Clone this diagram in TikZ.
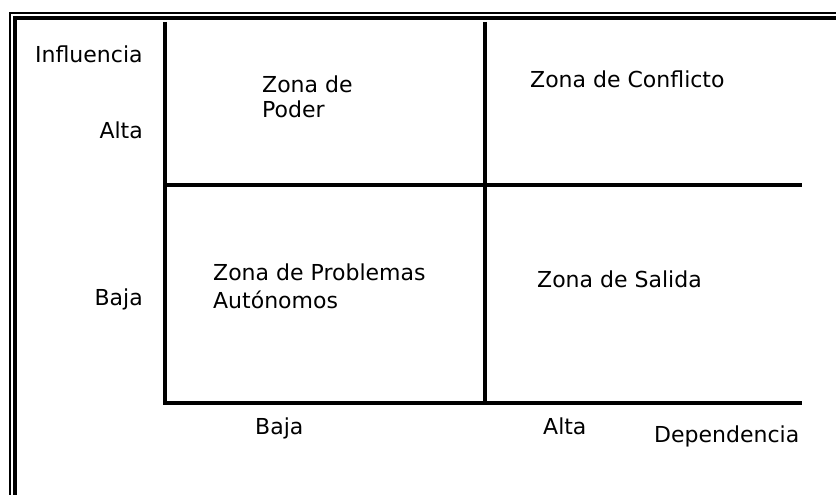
\documentclass[tikz,border=0pt]{standalone}
\usepackage{fontspec}
\setmainfont{DejaVu Sans}
\usetikzlibrary{positioning}

\begin{document}
\begin{tikzpicture}[x=1pt,y=-1pt,
    lbl/.style={inner sep=0pt,font=\fontsize{22pt}{25pt}\selectfont,text=black},
    zone/.style={lbl,anchor=north west,align=left},
    axisline/.style={line width=3.2pt,black}]
  \useasboundingbox (0,0) rectangle (836,495);
  % frame (open on the right and bottom)
  \draw[line width=2pt] (10,495) -- (10,13) -- (836,13);
  \draw[line width=4pt] (15,495) -- (15,18) -- (836,18);
  % grid
  \coordinate (o) at (165,403);
  \coordinate (ytop) at (165,22);
  \coordinate (xend) at (802,403);
  \coordinate (mtop) at (485,22);
  \coordinate (mbot) at (485,403);
  \coordinate (hl) at (165,185);
  \coordinate (hr) at (802,185);
  \draw[axisline] (ytop) -- (o) -- (xend);
  \draw[axisline] (mtop) -- (mbot);
  \draw[axisline] (hl) -- (hr);
  % axis labels
  \node[lbl,anchor=base west] (infl) at (35,63) {Influencia};
  \node[lbl,anchor=base east] (yalta) at (143,138) {Alta};
  \node[lbl,anchor=base east] (ybaja) at (143,305) {Baja};
  \node[lbl,anchor=base west] (xbaja) at (255,434) {Baja};
  \node[lbl,anchor=base west] (xalta) at (543,434) {Alta};
  \node[lbl,anchor=base west] (dep) at (654,442) {Dependencia};
  % zones
  \node[zone] (poder) at (262,75.5) {Zona de\\Poder};
  \node[lbl,anchor=base west] (confl) at (530,88) {Zona de Conflicto};
  \node[zone,font=\fontsize{22pt}{28pt}\selectfont] (auto) at (213,263.5) {Zona de Problemas\\Autónomos};
  \node[lbl,anchor=base west] (salida) at (537,287) {Zona de Salida};
\end{tikzpicture}
\end{document}
